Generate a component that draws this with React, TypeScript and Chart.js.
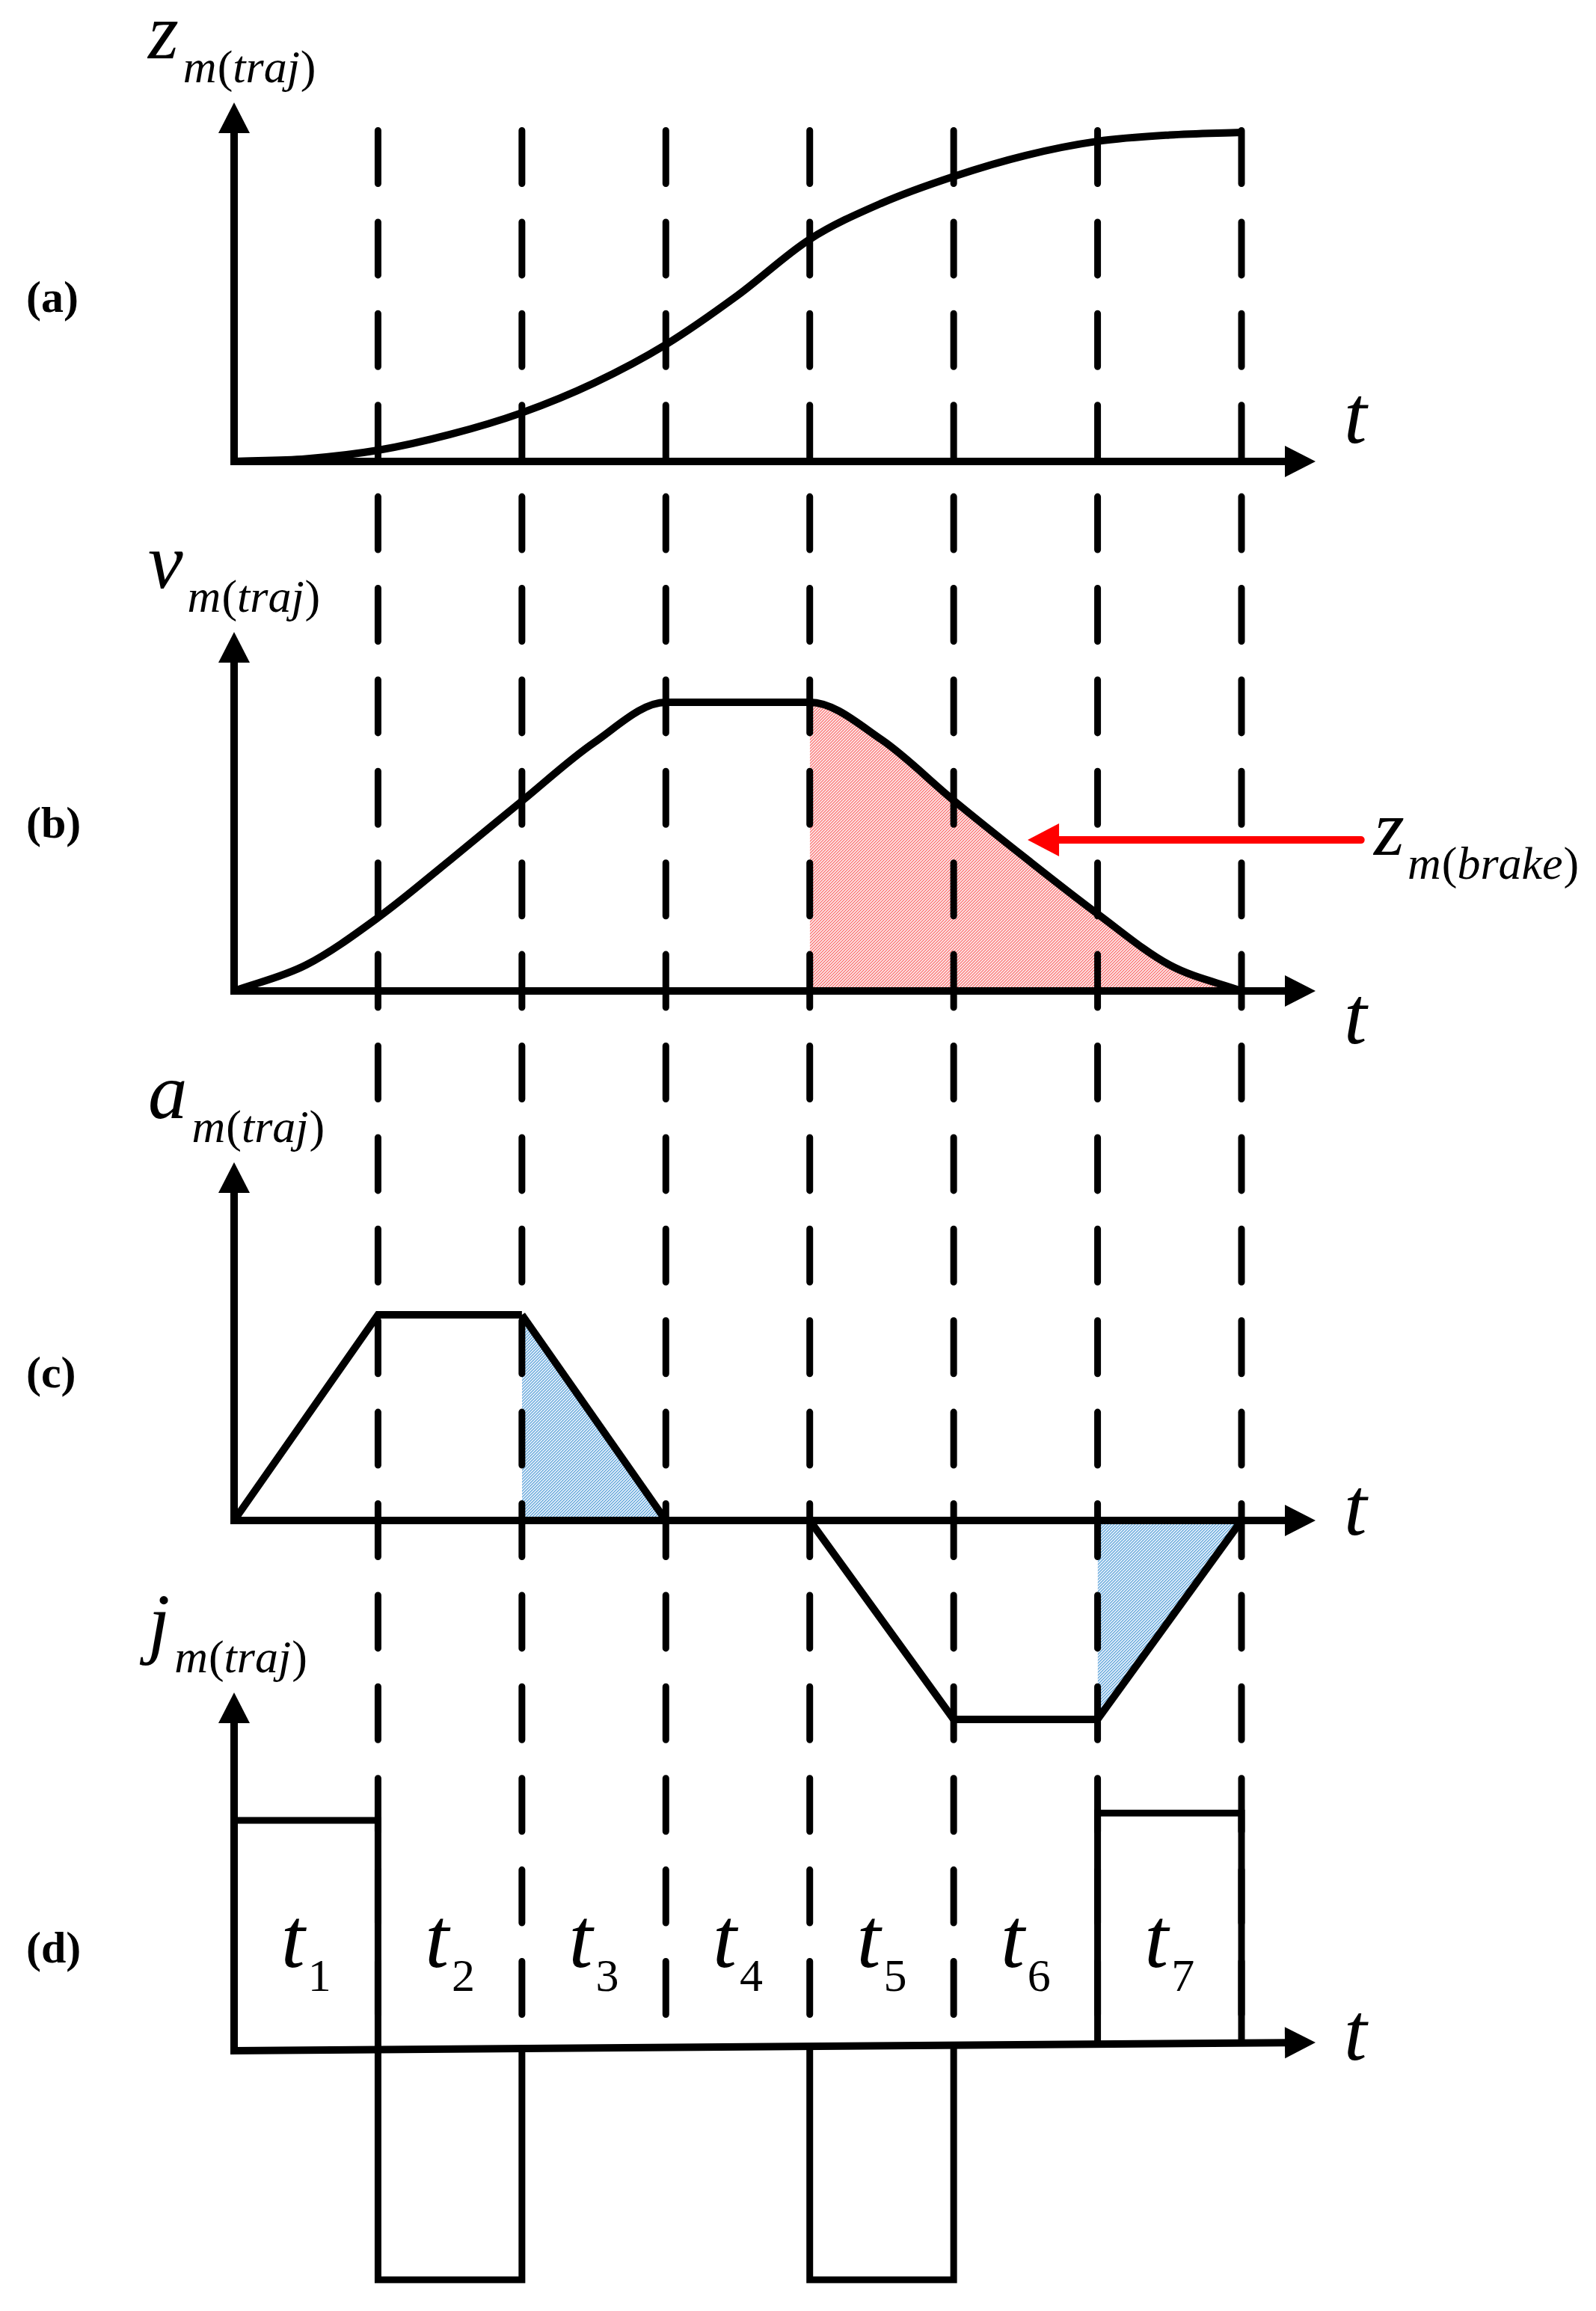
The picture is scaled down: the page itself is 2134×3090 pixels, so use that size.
import React, { useEffect, useRef } from 'react';
import { Chart, registerables } from 'chart.js';

Chart.register(...registerables);

// ---------------- data ----------------
const boundaries = [0, 1, 2, 3, 4, 5, 6, 7];
const intervalNames = ['1', '2', '3', '4', '5', '6', '7'];

const zTimes = [0, 0.5, 1, 1.5, 2, 2.5, 3, 3.5, 4, 4.5, 5, 5.5, 6, 6.5, 7];
const zValues = [0, 0.008, 0.034, 0.082, 0.148, 0.238, 0.355, 0.505, 0.675, 0.785, 0.866, 0.93, 0.973, 0.992, 1.0];

const vTimes = [0, 0.5, 1, 1.5, 2, 2.5, 3, 4, 4.5, 5, 5.5, 6, 6.5, 7];
const vValues = [0, 0.09, 0.254, 0.453, 0.658, 0.86, 1, 1, 0.87, 0.66, 0.46, 0.267, 0.09, 0];

const aTimes = [0, 1, 2, 3, 4, 5, 6, 7];
const aValues = [0, 1, 1, 0, 0, -0.967, -0.967, 0];

const jLevels = [1.0, -0.994, 0, 0, -0.994, 0, 1.032]; // jerk level per interval t1..t7
const jAxisDrift = 0.036; // the (d) time axis rises slightly towards its arrow

const brakeFrom = 4; // z_m(brake) shaded region starts here (under v)
const blueStarts = [2, 6]; // shaded intervals under a

const panelTags = ['(a)', '(b)', '(c)', '(d)'];
const panelSymbols = ['z', 'v', 'a', 'j'];
const subscriptRuns = [['m', true], ['(', false], ['traj', true], [')', false]] as [string, boolean][];
const brakeRuns = [['m', true], ['(', false], ['brake', true], [')', false]] as [string, boolean][];
const brakeArrow = { v: 0.523, fromT: 7.83, tipT: 5.514 };

// ---------------- layout ----------------
const W = 2134;
const H = 3090;
const X0 = 313;
const X7 = 1660;
const AXIS_TIP_T = (1759 - X0) / ((X7 - X0) / 7);
const ARROW_LEN = 41;
const ARROW_HALF = 21;
const GUIDE_TOP = 174.5;
const GUIDE_BOTTOM = 2693.5;
const SERIF = '"Liberation Serif", "Times New Roman", serif';

const PANELS = [
  { id: 'ya', baseline: 617, unit: 440, arrowTop: 137, tagY: 417, tY: 592 },
  { id: 'yb', baseline: 1325, unit: 386, arrowTop: 845, tagY: 1120, tY: 1395 },
  { id: 'yc', baseline: 2033, unit: 275, arrowTop: 1554, tagY: 1855, tY: 2052 },
  { id: 'yd', baseline: 2742, unit: 308, arrowTop: 2263, tagY: 2624, tY: 2754 },
];

const yRange = (baselinePx: number, unitPx: number) => ({
  min: (baselinePx - H) / unitPx,
  max: baselinePx / unitPx,
});

const hatch = (bg: string, fg: string) => {
  const c = document.createElement('canvas');
  c.width = 4;
  c.height = 4;
  const g = c.getContext('2d')!;
  g.fillStyle = bg;
  g.fillRect(0, 0, 4, 4);
  g.fillStyle = fg;
  for (let i = 0; i < 4; i++) g.fillRect(i, 3 - i, 1, 1);
  return g.createPattern(c, 'repeat')!;
};

const arrowHead = (ctx: CanvasRenderingContext2D, x: number, y: number, ang: number, len: number, half: number) => {
  const bx = x - Math.cos(ang) * len;
  const by = y - Math.sin(ang) * len;
  const px = -Math.sin(ang) * half;
  const py = Math.cos(ang) * half;
  ctx.beginPath();
  ctx.moveTo(x, y);
  ctx.lineTo(bx + px, by + py);
  ctx.lineTo(bx - px, by - py);
  ctx.closePath();
  ctx.fill();
};

const drawRuns = (ctx: CanvasRenderingContext2D, x: number, y: number, runs: [string, boolean][], size: number) => {
  let cx = x;
  for (const [text, italic] of runs) {
    ctx.font = `${italic ? 'italic ' : ''}${size}px ${SERIF}`;
    ctx.fillText(text, cx, y);
    cx += ctx.measureText(text).width + (italic ? 1 : 0);
  }
};

const overlay = {
  id: 'overlay',
  afterDatasetsDraw(chart: any) {
    const ctx: CanvasRenderingContext2D = chart.ctx;
    const xs = chart.scales.x;
    ctx.save();
    ctx.strokeStyle = '#000';
    ctx.fillStyle = '#000';
    PANELS.forEach((p) => {
      const s = chart.scales[p.id];
      const x0 = xs.getPixelForValue(0);
      const y0 = s.getPixelForValue(0);
      const xe = xs.getPixelForValue(AXIS_TIP_T);
      const ye = s.getPixelForValue(p.id === 'yd' ? jAxisDrift : 0);
      const ang = Math.atan2(ye - y0, xe - x0);
      ctx.lineWidth = 10;
      ctx.lineJoin = 'miter';
      ctx.lineCap = 'butt';
      ctx.beginPath();
      ctx.moveTo(x0, p.arrowTop + ARROW_LEN - 2);
      ctx.lineTo(x0, y0);
      ctx.lineTo(xe - Math.cos(ang) * (ARROW_LEN - 2), ye - Math.sin(ang) * (ARROW_LEN - 2));
      ctx.stroke();
      arrowHead(ctx, x0, p.arrowTop, -Math.PI / 2, ARROW_LEN, ARROW_HALF);
      arrowHead(ctx, xe, ye, ang, ARROW_LEN, ARROW_HALF);
    });

    // red arrow pointing at the braking-distance area
    const vs = chart.scales.yb;
    const ay = vs.getPixelForValue(brakeArrow.v);
    const ax1 = xs.getPixelForValue(brakeArrow.fromT);
    const axt = xs.getPixelForValue(brakeArrow.tipT);
    ctx.strokeStyle = '#ff0000';
    ctx.fillStyle = '#ff0000';
    ctx.lineWidth = 10;
    ctx.lineCap = 'round';
    ctx.beginPath();
    ctx.moveTo(ax1, ay);
    ctx.lineTo(axt + 40, ay);
    ctx.stroke();
    arrowHead(ctx, axt, ay, Math.PI, 42, 22);
    ctx.restore();
  },
  afterDraw(chart: any) {
    const ctx: CanvasRenderingContext2D = chart.ctx;
    const xs = chart.scales.x;
    ctx.save();
    ctx.fillStyle = '#000';
    ctx.textBaseline = 'alphabetic';
    ctx.textAlign = 'left';
    PANELS.forEach((p, i) => {
      // panel tag
      ctx.font = `bold 60px ${SERIF}`;
      ctx.fillText(panelTags[i], 35, p.tagY);
      // axis symbol with subscript
      ctx.font = `italic 105px ${SERIF}`;
      const sym = panelSymbols[i];
      ctx.fillText(sym, 198, p.arrowTop - 59);
      const w = ctx.measureText(sym).width;
      drawRuns(ctx, 198 + w + 6, p.arrowTop - 27, subscriptRuns, 62);
      // t label
      ctx.font = `italic 110px ${SERIF}`;
      ctx.fillText('t', 1797, p.tY);
    });
    // z_m(brake)
    ctx.font = `italic 105px ${SERIF}`;
    ctx.fillText('z', 1837, 1143);
    drawRuns(ctx, 1882, 1175, brakeRuns, 62);
    // interval labels t1..t7
    intervalNames.forEach((n, i) => {
      const cx = xs.getPixelForValue(boundaries[i] + 0.5);
      ctx.font = `italic 115px ${SERIF}`;
      const tw = ctx.measureText('t').width;
      ctx.font = `62px ${SERIF}`;
      const nw = ctx.measureText(n).width;
      const left = cx - (tw + 4 + nw) / 2;
      ctx.font = `italic 115px ${SERIF}`;
      ctx.fillText('t', left, 2630);
      ctx.font = `62px ${SERIF}`;
      ctx.fillText(n, left + tw + 4, 2662);
    });
    ctx.restore();
  },
};

export default function App() {
  const ref = useRef<HTMLCanvasElement>(null);

  useEffect(() => {
    if (!ref.current) return;
    const red = hatch('rgb(251,216,216)', 'rgba(255,30,30,0.7)');
    const blue = hatch('rgb(210,229,246)', 'rgba(0,112,192,0.7)');

    const pts = (ts: number[], vs: number[]) => ts.map((t, i) => ({ x: t, y: vs[i] }));
    const jBase = (t: number) => (jAxisDrift * t) / AXIS_TIP_T;

    const datasets: any[] = [];

    datasets.push({
      data: pts(zTimes, zValues),
      yAxisID: 'ya',
      borderColor: '#000',
      borderWidth: 10,
      cubicInterpolationMode: 'monotone',
      fill: false,
      order: 1,
    });
    datasets.push({
      data: pts(vTimes, vValues),
      yAxisID: 'yb',
      borderColor: '#000',
      borderWidth: 10,
      cubicInterpolationMode: 'monotone',
      backgroundColor: 'rgba(0,0,0,0)',
      fill: 'origin',
      segment: {
        backgroundColor: (c: any) => (c.p0.parsed.x >= brakeFrom - 1e-9 ? red : undefined),
      },
      order: 1,
    });
    datasets.push({
      data: pts(aTimes, aValues),
      yAxisID: 'yc',
      borderColor: '#000',
      borderWidth: 10,
      borderJoinStyle: 'miter',
      backgroundColor: 'rgba(0,0,0,0)',
      fill: 'origin',
      segment: {
        backgroundColor: (c: any) => (blueStarts.some((s) => Math.abs(c.p0.parsed.x - s) < 1e-9) ? blue : undefined),
      },
      order: 1,
    });
    jLevels.forEach((lvl, i) => {
      if (lvl === 0) return;
      const a = boundaries[i];
      const b = boundaries[i + 1];
      datasets.push({
        data: [
          { x: a, y: jBase(a) },
          { x: a, y: lvl },
          { x: b, y: lvl },
          { x: b, y: jBase(b) },
        ],
        yAxisID: 'yd',
        borderColor: '#000',
        borderWidth: 9,
        borderJoinStyle: 'miter',
        borderCapStyle: 'butt',
        fill: false,
        order: 1,
      });
    });
    boundaries.slice(1).forEach((k) => {
      datasets.push({
        data: [
          { x: k, y: 1 },
          { x: k, y: 0 },
        ],
        yAxisID: 'yg',
        borderColor: '#000',
        borderWidth: 9,
        borderDash: [71, 51.4],
        borderCapStyle: 'round',
        fill: false,
        order: 2,
      });
    });

    const xUnit = (X7 - X0) / 7;
    const scales: any = {
      x: { type: 'linear', display: false, min: -X0 / xUnit, max: (W - X0) / xUnit },
      yg: { type: 'linear', display: false, ...yRange(GUIDE_BOTTOM, GUIDE_BOTTOM - GUIDE_TOP) },
    };
    PANELS.forEach((p) => {
      scales[p.id] = { type: 'linear', display: false, ...yRange(p.baseline, p.unit) };
    });

    const chart = new Chart(ref.current, {
      type: 'line',
      data: { datasets },
      options: {
        responsive: false,
        maintainAspectRatio: false,
        animation: false,
        events: [],
        layout: { padding: 0 },
        elements: { point: { radius: 0 } },
        plugins: {
          legend: { display: false },
          tooltip: { enabled: false },
          filler: { drawTime: 'beforeDatasetsDraw' },
        } as any,
        scales,
      },
      plugins: [overlay as any],
    });
    return () => chart.destroy();
  }, []);

  return (
    <div style={{ position: 'absolute', left: 0, top: 0, width: W, height: H, background: '#fff' }}>
      <canvas ref={ref} width={W} height={H} style={{ display: 'block' }} />
    </div>
  );
}
